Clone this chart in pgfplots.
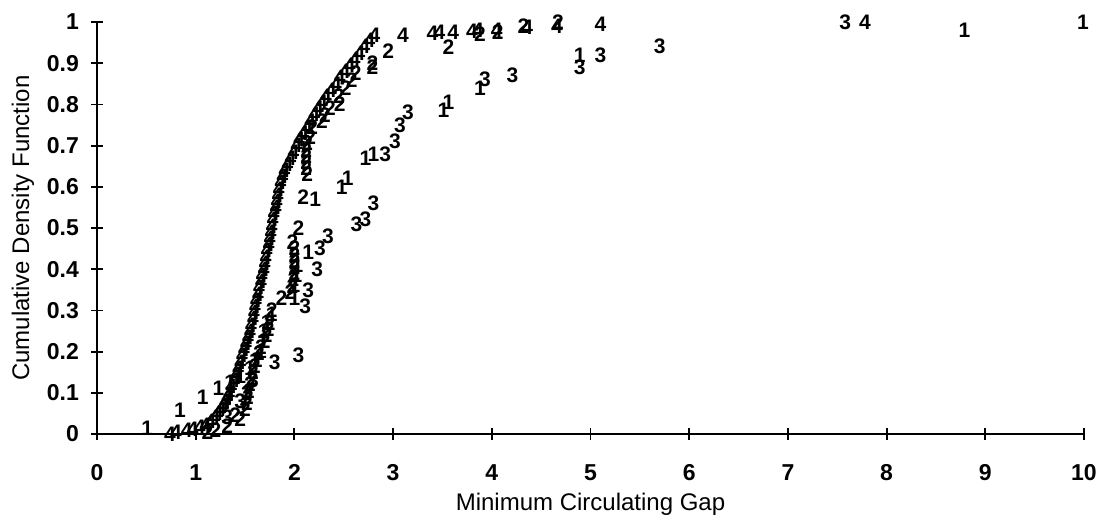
\documentclass[border=0pt]{standalone}
\usepackage{pgfplots}
\usepackage{pgfplotstable}
\pgfplotsset{compat=1.18}
\usepackage{fontspec}
\setmainfont{Liberation Sans}
\newcommand\markfont{\bfseries\fontsize{10.5}{12}\selectfont}

% minimum circulating gap vs CDF, one table per series
\pgfplotstableread{
x y
0.51 0.015
0.84 0.058
1.07 0.090
1.23 0.110
1.35 0.125
1.45 0.140
1.55 0.160
1.60 0.180
1.66 0.200
1.68 0.225
1.69 0.250
1.72 0.270
1.77 0.290
2.00 0.330
2.00 0.360
2.02 0.385
2.03 0.410
2.14 0.440
2.21 0.570
2.48 0.600
2.54 0.620
2.72 0.670
2.80 0.680
3.51 0.786
3.56 0.806
3.88 0.840
4.89 0.920
8.79 0.980
9.99 1.000
}\seriesA

\pgfplotstableread{
x y
1.12 0.005
1.20 0.010
1.32 0.020
1.45 0.035
1.40 0.045
1.50 0.060
1.52 0.075
1.53 0.090
1.54 0.105
1.55 0.120
1.57 0.135
1.58 0.150
1.60 0.165
1.62 0.180
1.64 0.195
1.66 0.210
1.70 0.225
1.72 0.240
1.74 0.255
1.75 0.270
1.77 0.300
1.87 0.330
1.96 0.345
1.98 0.360
1.99 0.375
2.00 0.390
2.00 0.405
2.00 0.420
2.00 0.435
2.00 0.450
1.98 0.465
2.04 0.500
2.09 0.575
2.13 0.630
2.12 0.645
2.12 0.660
2.12 0.675
2.12 0.690
2.13 0.705
2.16 0.720
2.18 0.745
2.28 0.760
2.31 0.775
2.36 0.790
2.46 0.800
2.45 0.820
2.52 0.840
2.58 0.860
2.62 0.875
2.79 0.890
2.79 0.900
2.95 0.930
3.56 0.940
3.88 0.970
4.06 0.976
4.32 0.990
4.67 1.000
}\seriesB

\pgfplotstableread{
x y
1.32 0.040
1.45 0.080
1.52 0.100
1.58 0.130
1.80 0.175
2.04 0.190
2.11 0.310
2.14 0.350
2.23 0.400
2.26 0.450
2.34 0.480
2.63 0.510
2.72 0.520
2.80 0.560
2.92 0.680
3.02 0.710
3.07 0.750
3.15 0.780
3.93 0.860
4.21 0.870
4.89 0.890
5.10 0.920
5.70 0.940
7.58 1.000
}\seriesC

\pgfplotstableread{
x y
0.74 0.000
0.80 0.004
0.91 0.008
0.97 0.012
1.04 0.016
1.10 0.020
1.15 0.030
1.19 0.040
1.22 0.050
1.25 0.060
1.28 0.070
1.30 0.080
1.32 0.090
1.34 0.100
1.36 0.115
1.39 0.130
1.41 0.145
1.43 0.160
1.45 0.175
1.47 0.190
1.49 0.205
1.51 0.220
1.53 0.235
1.55 0.250
1.56 0.265
1.58 0.280
1.59 0.295
1.60 0.310
1.61 0.325
1.63 0.340
1.64 0.355
1.66 0.370
1.67 0.385
1.69 0.400
1.70 0.415
1.71 0.430
1.72 0.445
1.74 0.460
1.75 0.475
1.76 0.490
1.77 0.505
1.78 0.520
1.79 0.535
1.81 0.550
1.82 0.565
1.83 0.580
1.84 0.595
1.86 0.610
1.88 0.625
1.90 0.640
1.93 0.655
1.96 0.670
1.99 0.685
2.02 0.700
2.05 0.715
2.09 0.730
2.13 0.745
2.16 0.760
2.20 0.775
2.24 0.790
2.28 0.805
2.32 0.820
2.37 0.835
2.42 0.850
2.46 0.865
2.51 0.880
2.56 0.895
2.61 0.910
2.66 0.925
2.71 0.940
2.76 0.955
2.81 0.967
3.10 0.968
3.40 0.973
3.47 0.975
3.61 0.976
3.80 0.978
3.86 0.979
4.05 0.980
4.36 0.988
4.66 0.990
5.10 0.995
7.78 1.000
}\seriesD

\begin{document}
\begin{tikzpicture}
\useasboundingbox (-48.5pt,-43.5pt) rectangle (504pt,217pt);
\begin{axis}[
  scale only axis, width=493.5pt, height=206pt,
  xmin=0, xmax=10, ymin=0, ymax=1,
  axis x line*=bottom, axis y line*=left,
  axis line style={-, line width=0.9pt},
  tick align=center, major tick length=6pt,
  tick style={line width=0.9pt, black},
  xtick={0,1,...,10}, ytick={0,0.1,...,1},
  xticklabels={0,1,2,3,4,5,6,7,8,9,10},
  yticklabels={0,0.1,0.2,0.3,0.4,0.5,0.6,0.7,0.8,0.9,1},
  ticklabel style={font=\bfseries\fontsize{11.5}{13}\selectfont},
  xticklabel style={text height=8.5pt, text depth=0pt, yshift=-8pt},
  yticklabel style={xshift=-2.5pt},
  xlabel={Minimum Circulating Gap},
  ylabel={Cumulative Density Function},
  label style={font=\fontsize{12}{14}\selectfont},
  xlabel style={at={(axis description cs:0.5,0)}, anchor=center, yshift=-35pt},
  ylabel style={at={(axis description cs:-0.075,0.5)}, anchor=center},
  clip=false,
]
\addplot[only marks, mark=text, text mark={\markfont 1}] table {\seriesA};
\addplot[only marks, mark=text, text mark={\markfont 2}] table {\seriesB};
\addplot[only marks, mark=text, text mark={\markfont 3}] table {\seriesC};
\addplot[only marks, mark=text, text mark={\markfont 4}] table {\seriesD};
\end{axis}
\end{tikzpicture}
\end{document}
